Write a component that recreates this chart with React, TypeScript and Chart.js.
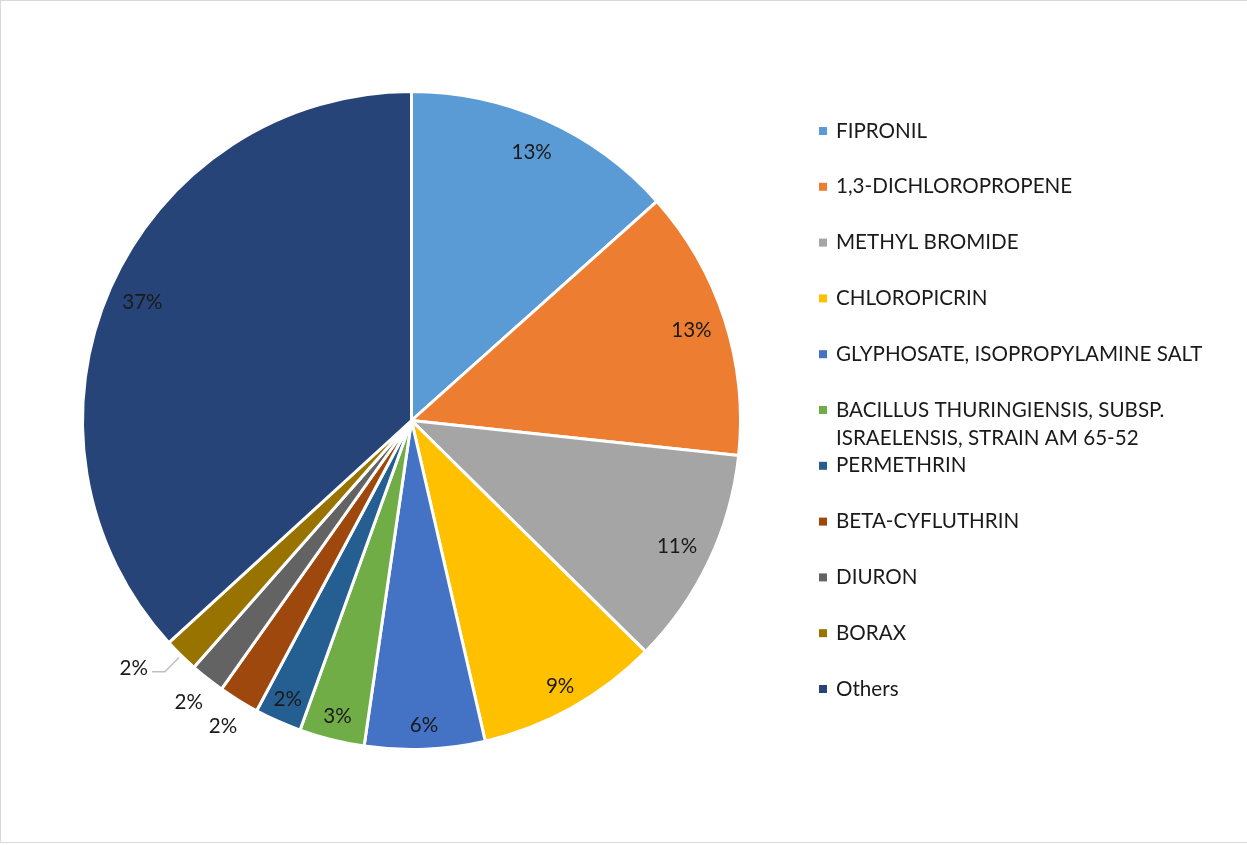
import React, { useEffect, useRef } from "react";
import { Chart, registerables } from "chart.js";

Chart.register(...registerables);

const categories: string[][] = [
  ["FIPRONIL"],
  ["1,3-DICHLOROPROPENE"],
  ["METHYL BROMIDE"],
  ["CHLOROPICRIN"],
  ["GLYPHOSATE, ISOPROPYLAMINE SALT"],
  ["BACILLUS THURINGIENSIS, SUBSP.", "ISRAELENSIS, STRAIN AM 65-52"],
  ["PERMETHRIN"],
  ["BETA-CYFLUTHRIN"],
  ["DIURON"],
  ["BORAX"],
  ["Others"],
];

const shares: number[] = [13.4, 13.3, 10.7, 9.0, 5.9, 3.2, 2.3, 2.0, 1.7, 1.7, 36.8];

const colors: string[] = [
  "#5B9BD5",
  "#ED7D31",
  "#A5A5A5",
  "#FFC000",
  "#4472C4",
  "#70AD47",
  "#255E91",
  "#9E480E",
  "#636363",
  "#997300",
  "#264478",
];

const FONT_FAMILY = "Lato, 'Open Sans', sans-serif";
const FONT_SIZE = 20.6;
const TEXT_COLOR = "#1a1a1a";

const labelsPlugin = {
  id: "pctLabels",
  afterDatasetsDraw(chart: any) {
    const ctx: CanvasRenderingContext2D = chart.ctx;
    const meta = chart.getDatasetMeta(0);
    const data: number[] = chart.data.datasets[0].data;
    const total = data.reduce((a, b) => a + b, 0);
    ctx.save();
    ctx.font = `${FONT_SIZE}px ${FONT_FAMILY}`;
    ctx.fillStyle = TEXT_COLOR;
    ctx.textAlign = "center";
    ctx.textBaseline = "middle";
    meta.data.forEach((arc: any, i: number) => {
      const { x, y, startAngle, endAngle, outerRadius } = arc.getProps(
        ["x", "y", "startAngle", "endAngle", "outerRadius"],
        true
      );
      const mid = (startAngle + endAngle) / 2;
      const txt = Math.round((data[i] / total) * 100) + "%";
      const cos = Math.cos(mid);
      const sin = Math.sin(mid);
      if (i === 9) {
        const x1 = x + cos * (outerRadius + 3);
        const y1 = y + sin * (outerRadius + 3);
        const x2 = x + cos * (outerRadius + 23);
        const y2 = y + sin * (outerRadius + 23);
        ctx.save();
        ctx.strokeStyle = "#bfbfbf";
        ctx.lineWidth = 1.5;
        ctx.beginPath();
        ctx.moveTo(x1, y1);
        ctx.lineTo(x2, y2);
        ctx.lineTo(x2 - 13, y2);
        ctx.stroke();
        ctx.restore();
        ctx.textAlign = "right";
        ctx.fillText(txt, x2 - 17, y2 - 3);
        ctx.textAlign = "center";
      } else if (i === 7 || i === 8) {
        const r = outerRadius + 30;
        ctx.fillText(txt, x + cos * r, y + sin * r);
      } else {
        const r = i >= 3 && i <= 6 ? outerRadius - 24 : outerRadius - 35;
        ctx.fillText(txt, x + cos * r, y + sin * r);
      }
    });
    ctx.restore();
  },
};

const legendPlugin = {
  id: "sideLegend",
  afterDraw(chart: any) {
    const ctx: CanvasRenderingContext2D = chart.ctx;
    const labels: string[][] = chart.data.labels;
    const bg: string[] = chart.data.datasets[0].backgroundColor;
    ctx.save();
    ctx.font = `${FONT_SIZE}px ${FONT_FAMILY}`;
    ctx.textBaseline = "middle";
    ctx.textAlign = "left";
    const x0 = 819;
    const y0 = 131;
    const step = 55.8;
    labels.forEach((lines, i) => {
      const cy = y0 + i * step;
      ctx.fillStyle = bg[i];
      ctx.fillRect(x0, cy - 4, 8, 8);
      ctx.fillStyle = TEXT_COLOR;
      lines.forEach((line, j) => {
        ctx.fillText(line, x0 + 17, cy + j * 28);
      });
    });
    ctx.restore();
  },
};

export default function App() {
  const ref = useRef<HTMLCanvasElement | null>(null);

  useEffect(() => {
    document.body.style.margin = "0";
    document.body.style.overflow = "hidden";
    const canvas = ref.current!;
    const chart = new Chart(canvas, {
      type: "pie",
      data: {
        labels: categories as any,
        datasets: [
          {
            data: shares,
            backgroundColor: colors,
            borderColor: "#ffffff",
            borderWidth: 3,
          },
        ],
      },
      options: {
        animation: false,
        responsive: false,
        events: [],
        layout: {
          padding: { left: 81, top: 89, right: 505, bottom: 93 },
        },
        plugins: {
          legend: { display: false },
          tooltip: { enabled: false },
        },
      },
      plugins: [labelsPlugin, legendPlugin],
    });
    return () => chart.destroy();
  }, []);

  return (
    <div style={{ position: "relative", width: 1247, height: 845, background: "#fff" }}>
      <canvas
        ref={ref}
        width={1247}
        height={845}
        style={{ position: "absolute", left: 0, top: 0, width: 1247, height: 845 }}
      />
      <div
        style={{
          position: "absolute",
          left: 0,
          top: 0,
          width: 1260,
          height: 843,
          borderTop: "1.5px solid #d9d9d9",
          borderLeft: "1.5px solid #d9d9d9",
          borderBottom: "1.5px solid #d9d9d9",
          boxSizing: "border-box",
          pointerEvents: "none",
        }}
      />
    </div>
  );
}
